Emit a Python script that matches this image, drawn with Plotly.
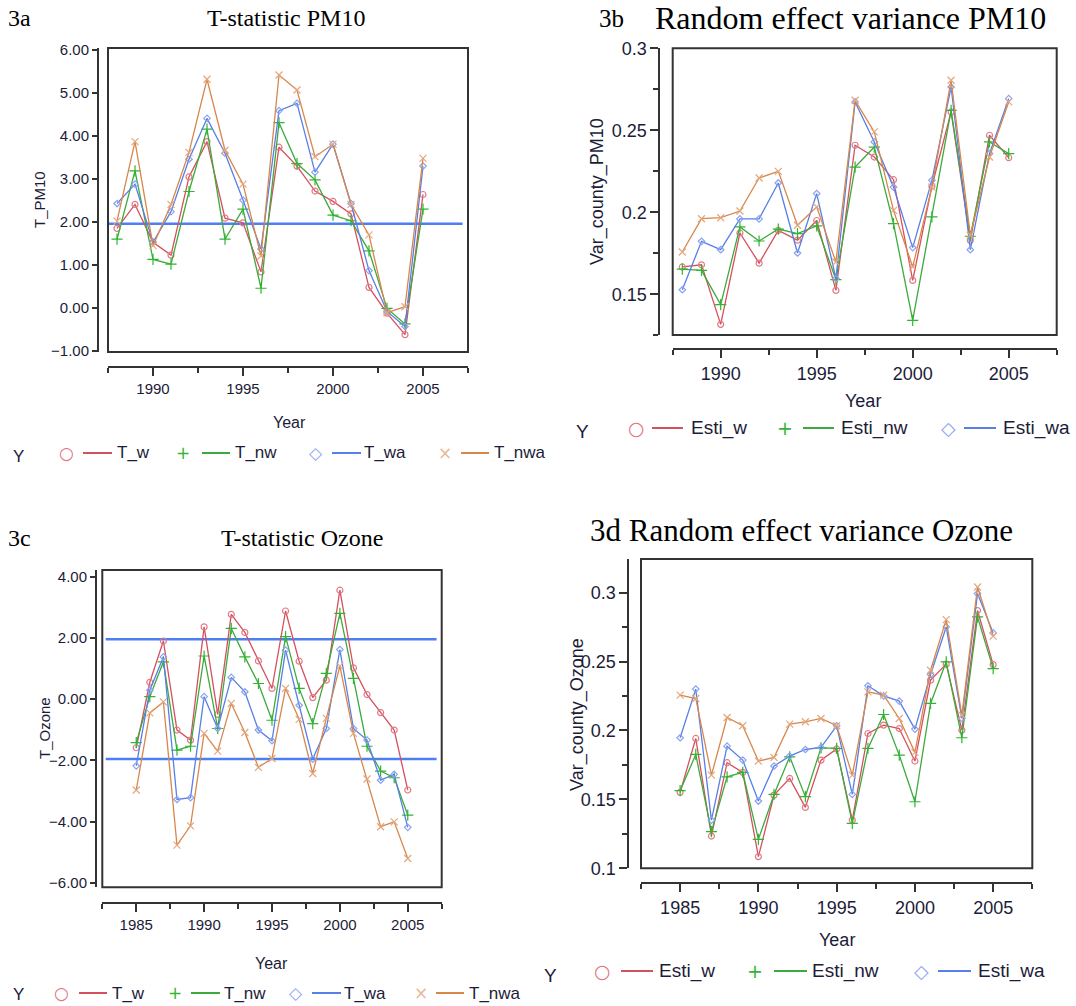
import plotly.graph_objects as go

# ---------------- data ----------------
YEARS_PM10 = list(range(1988, 2006))
YEARS_OZONE = list(range(1985, 2006))

T_PM10_W = [1.85, 2.41, 1.53, 1.23, 3.05, 3.87, 2.09, 1.98, 0.84, 3.74, 3.30, 2.72, 2.48, 2.19, 0.48, -0.12, -0.62, 2.64]
T_PM10_NW = [1.60, 3.19, 1.13, 1.02, 2.71, 4.16, 1.60, 2.30, 0.46, 4.31, 3.36, 2.98, 2.16, 2.03, 1.33, -0.01, -0.37, 2.30]
T_PM10_WA = [2.43, 2.88, 1.53, 2.24, 3.46, 4.41, 3.60, 2.51, 1.37, 4.59, 4.76, 3.16, 3.81, 2.43, 0.87, -0.08, -0.43, 3.30]
T_PM10_NWA = [2.02, 3.87, 1.45, 2.41, 3.62, 5.32, 3.67, 2.88, 1.21, 5.42, 5.07, 3.52, 3.81, 2.41, 1.70, -0.11, 0.03, 3.48]

VAR_PM10_W = [0.1667, 0.1680, 0.1317, 0.1874, 0.1690, 0.1890, 0.1830, 0.1950, 0.1524, 0.2409, 0.2337, 0.2199, 0.1585, 0.2159, 0.2612, 0.1829, 0.2470, 0.2333]
VAR_PM10_NW = [0.1654, 0.1646, 0.1437, 0.1911, 0.1825, 0.1898, 0.1870, 0.1917, 0.1590, 0.2276, 0.2398, 0.1931, 0.1341, 0.1972, 0.2622, 0.1854, 0.2429, 0.2358]
VAR_PM10_WA = [0.1528, 0.1823, 0.1772, 0.1960, 0.1960, 0.2179, 0.1752, 0.2114, 0.1596, 0.2673, 0.2429, 0.2154, 0.1785, 0.2195, 0.2764, 0.1772, 0.2358, 0.2693]
VAR_PM10_NWA = [0.1758, 0.1961, 0.1967, 0.2008, 0.2209, 0.2250, 0.1921, 0.2033, 0.1697, 0.2683, 0.2490, 0.2012, 0.1667, 0.2154, 0.2805, 0.1860, 0.2337, 0.2673]

T_OZ_W = [-1.59, 0.55, 1.90, -1.01, -1.34, 2.36, -0.50, 2.77, 2.18, 1.25, 0.35, 2.88, 1.24, 0.05, 0.62, 3.56, 1.02, 0.15, -0.44, -1.01, -2.97]
T_OZ_NW = [-1.42, 0.08, 1.22, -1.67, -1.54, 1.41, -0.96, 2.31, 1.38, 0.51, -0.69, 2.04, 0.35, -0.80, 0.84, 2.80, 0.68, -1.54, -2.35, -2.57, -3.79]
T_OZ_WA = [-2.18, 0.29, 1.38, -3.28, -3.22, 0.08, -0.96, 0.71, 0.24, -1.01, -1.36, 1.60, -0.20, -1.96, -0.96, 1.62, -0.96, -1.34, -2.65, -2.46, -4.19]
T_OZ_NWA = [-2.97, -0.45, -0.09, -4.77, -4.14, -1.12, -1.70, -0.14, -1.09, -2.23, -1.94, 0.35, -0.66, -2.43, -0.63, 1.08, -1.12, -2.61, -4.17, -4.01, -5.21]

VAR_OZ_W = [0.1551, 0.1942, 0.1234, 0.1766, 0.1696, 0.1085, 0.1531, 0.1652, 0.1442, 0.1785, 0.1866, 0.1350, 0.1978, 0.2039, 0.2014, 0.1778, 0.2365, 0.2481, 0.2002, 0.2870, 0.2478]
VAR_OZ_NW = [0.1563, 0.1826, 0.1266, 0.1664, 0.1696, 0.1210, 0.1536, 0.1809, 0.1520, 0.1874, 0.1870, 0.1326, 0.1870, 0.2116, 0.1821, 0.1483, 0.2196, 0.2498, 0.1947, 0.2824, 0.2449]
VAR_OZ_WA = [0.1947, 0.2300, 0.1350, 0.1886, 0.1785, 0.1488, 0.1742, 0.1814, 0.1862, 0.1877, 0.2034, 0.1536, 0.2324, 0.2251, 0.2213, 0.2010, 0.2406, 0.2751, 0.2087, 0.2993, 0.2708]
VAR_OZ_NWA = [0.2256, 0.2232, 0.1676, 0.2094, 0.2034, 0.1778, 0.1804, 0.2046, 0.2063, 0.2087, 0.2034, 0.1676, 0.2280, 0.2256, 0.2087, 0.1841, 0.2437, 0.2804, 0.2111, 0.3041, 0.2684]

T_NAMES = ["T_w", "T_nw", "T_wa", "T_nwa"]
ESTI_NAMES = ["Esti_w", "Esti_nw", "Esti_wa", "Esti_nwa"]
CRITICAL_PM10 = [1.96]
CRITICAL_OZONE = [1.96, -1.96]

PM10_XTICKS = [1990, 1995, 2000, 2005]
OZONE_XTICKS = [1985, 1990, 1995, 2000, 2005]
T_PM10_YTICKS = [-1, 0, 1, 2, 3, 4, 5, 6]
VAR_PM10_YTICKS = [0.15, 0.2, 0.25, 0.3]
T_OZ_YTICKS = [-6, -4, -2, 0, 2, 4]
VAR_OZ_YTICKS = [0.1, 0.15, 0.2, 0.25, 0.3]

# ---------------- styles ----------------
W, H = 1076, 1006
LINE_COLORS = ["#d5505e", "#3caa3c", "#587fe6", "#d8874b"]
MARK_COLORS = ["#e07c86", "#2fb52f", "#8aa3ef", "#e3a77e"]
LEG_MARK_COLORS = ["#e2737e", "#35b535", "#8ea6f0", "#e9b899"]
LEG_GLYPHS = ["\u25cb", "+", "\u25c7", "\u00d7"]
SYMBOLS = ["circle-open", "cross-thin-open", "diamond-open", "x-thin-open"]
MSIZE = [6, 8, 5, 7]
SANS = "Liberation Sans"
SERIF = "Liberation Serif"
TXT = "#1c1c38"
AX = "#333333"
REF_BLUE = "#4d7ff2"


def px_x(p):
    return p / W


def px_y(p):
    return 1 - p / H


fig = go.Figure()

panels = [
    dict(key="", years=YEARS_PM10, series=[T_PM10_W, T_PM10_NW, T_PM10_WA, T_PM10_NWA], names=T_NAMES),
    dict(key="2", years=YEARS_PM10, series=[VAR_PM10_W, VAR_PM10_NW, VAR_PM10_WA, VAR_PM10_NWA], names=ESTI_NAMES),
    dict(key="3", years=YEARS_OZONE, series=[T_OZ_W, T_OZ_NW, T_OZ_WA, T_OZ_NWA], names=T_NAMES),
    dict(key="4", years=YEARS_OZONE, series=[VAR_OZ_W, VAR_OZ_NW, VAR_OZ_WA, VAR_OZ_NWA], names=ESTI_NAMES),
]

for p in panels:
    for i, (vals, name) in enumerate(zip(p["series"], p["names"])):
        fig.add_trace(go.Scatter(
            x=p["years"], y=vals, name=name, mode="lines+markers",
            xaxis="x" + p["key"], yaxis="y" + p["key"],
            line=dict(color=LINE_COLORS[i], width=1.3),
            marker=dict(symbol=SYMBOLS[i], size=MSIZE[i], color=MARK_COLORS[i],
                        line=dict(color=MARK_COLORS[i], width=1.2)),
            showlegend=False,
        ))


# ---------------- axes ----------------
def xaxis(domain, rng, pos, ticks, fs):
    return dict(domain=domain, range=rng, anchor="free", position=pos,
                showline=True, linecolor=AX, linewidth=2,
                ticks="outside", ticklen=8, tickwidth=1.5, tickcolor=AX,
                tickvals=ticks, ticktext=[str(t) for t in ticks],
                minor=dict(dtick=2.5, tick0=rng[0], ticks="outside", ticklen=5, tickwidth=1.5, tickcolor=AX),
                showgrid=False, zeroline=False, automargin=False,
                tickfont=dict(family=SANS, size=fs, color=TXT))


def yaxis(domain, rng, pos, ticks, fs, fmt=None, minor=None, ticklen=8):
    d = dict(domain=domain, range=rng, anchor="free", position=pos,
             showline=True, linecolor=AX, linewidth=2,
             ticks="outside", ticklen=ticklen, tickwidth=1.5, tickcolor=AX,
             tickvals=ticks, showgrid=False, zeroline=False, automargin=False,
             tickfont=dict(family=SANS, size=fs, color=TXT))
    if fmt:
        d["tickformat"] = fmt
    if minor:
        d["minor"] = dict(dtick=minor, tick0=rng[0], ticks="outside", ticklen=5, tickwidth=1.5, tickcolor=AX)
    return d


dom_a = ([px_x(108), px_x(468)], [px_y(352), px_y(48)])
dom_b = ([px_x(672.7), px_x(1056.7)], [px_y(335), px_y(48.3)])
dom_c = ([px_x(102.3), px_x(441.7)], [px_y(887.3), px_y(570)])
dom_d = ([px_x(641), px_x(1032.3)], [px_y(868.3), px_y(559)])

fig.update_layout(
    xaxis=xaxis(dom_a[0], [1987.5, 2007.5], px_y(366.7), PM10_XTICKS, 15),
    yaxis=yaxis(dom_a[1], [-1.023, 6.047], px_x(98), T_PM10_YTICKS, 15, fmt=".2f", ticklen=5),
    xaxis2=xaxis(dom_b[0], [1987.5, 2007.5], px_y(349.3), PM10_XTICKS, 18),
    yaxis2=yaxis(dom_b[1], [0.1252, 0.3], px_x(659.3), VAR_PM10_YTICKS, 18, minor=0.025),
    xaxis3=xaxis(dom_c[0], [1982.5, 2007.5], px_y(903), OZONE_XTICKS, 15),
    yaxis3=yaxis(dom_c[1], [-6.15, 4.22], px_x(96), T_OZ_YTICKS, 15, fmt=".2f", ticklen=5),
    xaxis4=xaxis(dom_d[0], [1982.5, 2007.5], px_y(883.3), OZONE_XTICKS, 18),
    yaxis4=yaxis(dom_d[1], [0.1, 0.3244], px_x(628.3), VAR_OZ_YTICKS, 18, minor=0.025),
)

# frames and reference lines
shapes = []
for k in ["", "2", "3", "4"]:
    shapes.append(dict(type="rect", xref="x%s domain" % k, yref="y%s domain" % k,
                       x0=0, x1=1, y0=0, y1=1, line=dict(color=AX, width=2), layer="above"))
for v in CRITICAL_PM10:
    shapes.append(dict(type="line", xref="x domain", yref="y", x0=0.0, x1=0.985, y0=v, y1=v,
                       line=dict(color=REF_BLUE, width=2.5), layer="below"))
for v in CRITICAL_OZONE:
    shapes.append(dict(type="line", xref="x3 domain", yref="y3", x0=0.01, x1=0.985, y0=v, y1=v,
                       line=dict(color=REF_BLUE, width=2.5), layer="below"))

# ---------------- text ----------------
ann = []


def text(x, y, s, size, family=SANS, color=TXT, xanchor="center", angle=0):
    ann.append(dict(x=px_x(x), y=px_y(y), xref="paper", yref="paper", text=s, showarrow=False,
                    xanchor=xanchor, yanchor="middle", textangle=angle,
                    font=dict(family=family, size=size, color=color)))


text(6, 18, "3a", 24, SERIF, "black", "left")
text(286, 18, "T-statistic PM10", 24, SERIF, "black")
text(597, 18, "3b", 25, SERIF, "black", "left")
text(850, 18, "Random effect variance PM10", 32, SERIF, "black")
text(6, 538, "3c", 24, SERIF, "black", "left")
text(302, 538, "T-statistic Ozone", 24, SERIF, "black")
text(588, 530, "3d Random effect variance Ozone", 31, SERIF, "black", "left")

text(40, 200, "T_PM10", 15, angle=-90)
text(597, 192, "Var_county_PM10", 18, angle=-90)
text(44, 728, "T_Ozone", 15, angle=-90)
text(577, 715, "Var_county_Ozone", 18, angle=-90)

text(289, 422, "Year", 16)
text(863, 401, "Year", 18)
text(271, 963, "Year", 16)
text(837, 940, "Year", 18)


# ---------------- legends (Y label, marker glyph, line sample, name) ----------------
def legend_row(y, y_label, names, marks, fs, gfs):
    text(y_label[0], y_label[1], "Y", fs)
    for i, (name, (mx, l0, l1, tx)) in enumerate(zip(names, marks)):
        ann.append(dict(x=px_x(mx), y=px_y(y), xref="paper", yref="paper", text=LEG_GLYPHS[i],
                        showarrow=False, xanchor="center", yanchor="middle",
                        font=dict(family="DejaVu Sans", size=gfs, color=LEG_MARK_COLORS[i])))
        shapes.append(dict(type="line", xref="paper", yref="paper", x0=px_x(l0), x1=px_x(l1),
                           y0=px_y(y), y1=px_y(y), line=dict(color=LINE_COLORS[i], width=2)))
        text(tx, y, name, fs, xanchor="left")


legend_row(453, (18, 457), T_NAMES, [(66, 83, 112, 115), (183, 202, 230, 233), (316, 332, 361, 362), (445, 461, 489, 492)], 17, 17)
legend_row(428, (582, 432), ESTI_NAMES[:3], [(636, 652, 683, 689), (785, 803, 834, 839), (948, 964, 996, 1001)], 19, 19)
legend_row(993, (18, 994), T_NAMES, [(61, 79, 107, 110), (175, 191, 220, 222), (296, 312, 341, 342), (421, 436, 464, 467)], 17, 17)
legend_row(971, (550, 975), ESTI_NAMES[:3], [(603, 621, 653, 657), (755, 774, 807, 810), (921, 938, 971, 976)], 19, 19)

fig.update_layout(annotations=ann, shapes=shapes, showlegend=False)
fig.update_layout(width=W, height=H, margin=dict(l=0, r=0, t=0, b=0, autoexpand=False),
                  paper_bgcolor="white", plot_bgcolor="white")

fig.write_html("out.html")
